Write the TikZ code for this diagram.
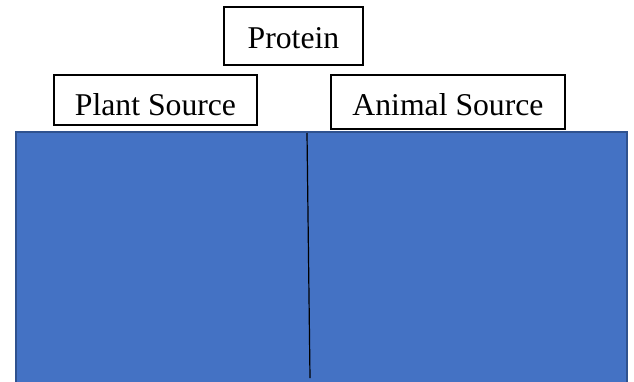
\documentclass[tikz,border=0pt]{standalone}
\usepackage{fontspec}
\setmainfont{Liberation Serif}
\begin{document}
\begin{tikzpicture}[x=1pt,y=-1pt,
  labelbox/.style={draw=black,line width=1.2pt,fill=white,inner sep=0pt,font=\fontsize{31.7}{36}\selectfont,text depth=0pt},
  panel/.style={draw={rgb,255:red,47;green,82;blue,143},line width=1.5pt,fill={rgb,255:red,68;green,114;blue,196}}]
\useasboundingbox (0,0) rectangle (634,381);
\draw[panel] (16,132) rectangle (627,386);
\coordinate (divtop) at (307,133);
\coordinate (divbot) at (310,378);
\draw[line width=1.2pt,black] (divtop) -- (divbot);
\node[labelbox,minimum width=139pt,minimum height=58pt,text height=24pt] (protein) at (293.5,36) {Protein};
\node[labelbox,minimum width=203pt,minimum height=50pt,text height=30pt] (plant) at (155.5,100) {Plant Source};
\node[labelbox,minimum width=234pt,minimum height=54pt,text height=26pt] (animal) at (448,102) {Animal Source};
\end{tikzpicture}
\end{document}
